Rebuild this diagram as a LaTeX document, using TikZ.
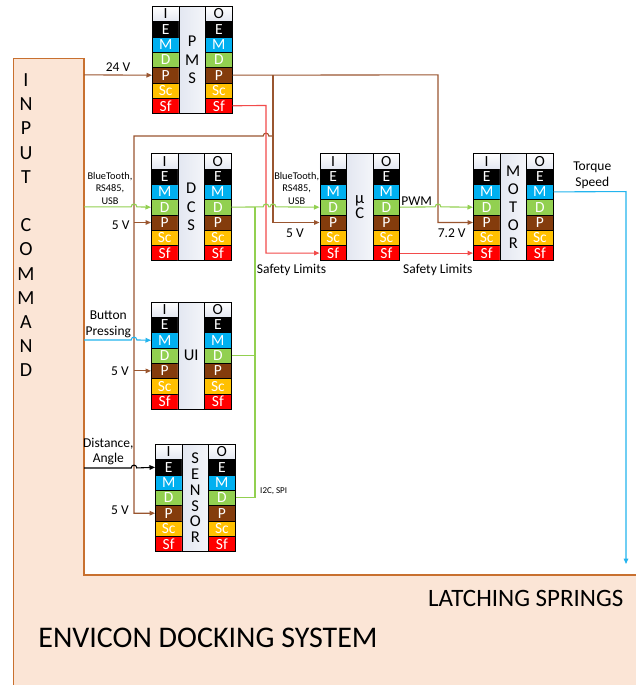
\documentclass[tikz,border=0pt]{standalone}
\usepackage{fontspec}
\setmainfont{Carlito}
\usetikzlibrary{arrows.meta,calc}
\definecolor{cE}{HTML}{000000}
\definecolor{cM}{HTML}{00B0F0}
\definecolor{cD}{HTML}{92D050}
\definecolor{cP}{HTML}{843C0C}
\definecolor{cSc}{HTML}{FFC000}
\definecolor{cSf}{HTML}{FF0000}
\definecolor{peach}{HTML}{FBE5D6}
\definecolor{framec}{HTML}{C8702F}
\definecolor{brn}{HTML}{9A5630}
\definecolor{redl}{HTML}{F24B4B}
\definecolor{grnl}{HTML}{92D050}
\definecolor{cyl}{HTML}{23B4EE}
\definecolor{midc}{HTML}{E3E7F1}
\tikzset{
  x=1pt, y=-1pt,
  cell/.style={draw=black, line width=0.7pt, minimum width=26.6pt, minimum height=15.3pt,
    inner sep=0pt, anchor=north west, font=\fontsize{15.5}{15.5}\selectfont, text=white},
  sI/.style={cell, top color=white, bottom color=midc, text=black},
  sE/.style={cell, fill=cE},
  sM/.style={cell, fill=cM},
  sD/.style={cell, fill=cD},
  sP/.style={cell, fill=cP},
  sSc/.style={cell, fill=cSc},
  sSf/.style={cell, fill=cSf},
  midcol/.style={draw=black, line width=0.7pt, minimum width=26.6pt, minimum height=107.1pt,
    inner sep=0pt, anchor=north west, left color=midc, right color=white!60!midc},
  conn/.style={line width=1.1pt},
  bline/.style={conn, draw=brn},
  rline/.style={conn, draw=redl},
  gline/.style={conn, draw=grnl},
  cline/.style={conn, draw=cyl},
  kline/.style={conn, draw=black},
  arr/.style={-{Triangle[length=5.5pt,width=4.6pt]}},
  lbl/.style={anchor=base, inner sep=0pt, font=\fontsize{13.5}{13.5}\selectfont},
  sml/.style={anchor=base, inner sep=0pt, font=\fontsize{10.3}{10.3}\selectfont},
  cmdl/.style={anchor=base, inner sep=0pt, font=\fontsize{20}{20}\selectfont},
}
\newcommand\hopR[2]{-- ({#1-2.8},{#2}) .. controls ({#1-2.8},{#2-3.8}) and ({#1+2.8},{#2-3.8}) .. ({#1+2.8},{#2})}
\newcommand\hopL[2]{-- ({#1+2.8},{#2}) .. controls ({#1+2.8},{#2-3.8}) and ({#1-2.8},{#2-3.8}) .. ({#1-2.8},{#2})}
\newcommand\ioblk[5]{%
  \foreach \k/\t [count=\i from 0] in {I/I,E/E,M/M,D/D,P/P,Sc/Sc,Sf/Sf}{
    \node[s\k] (#1-l\k) at ({#2},{#3+15.3*\i}) {\t};
  }
  \foreach \k/\t [count=\i from 0] in {I/O,E/E,M/M,D/D,P/P,Sc/Sc,Sf/Sf}{
    \node[s\k] (#1-r\k) at ({#2+53.2},{#3+15.3*\i}) {\t};
  }
  \node[midcol] (#1-m) at ({#2+26.6},{#3}) {};
  \node[align=center, inner sep=0pt, font=\fontsize{16.5}{#5}\selectfont] (#1-t) at (#1-m.center) {#4};
}
\begin{document}
\begin{tikzpicture}
\useasboundingbox (0,0) rectangle (636,685);
% background
\fill[white] (0,0) rectangle (636,685);
\fill[peach] (13.3,58.3) rectangle (636,685);
\fill[white] (84,58.3) rectangle (636,575);
\draw[framec, line width=1.2pt] (636,575) -- (84,575) -- (84,58.3) -- (13.3,58.3) -- (13.3,685);
% input command text
\foreach \l [count=\k from 0] in {I,N,P,U,T}{\node[cmdl] (cin\k) at (26,{86.4+24.2*\k}) {\l};}
\foreach \l [count=\k from 6] in {C,O,M,M,A,N,D}{\node[cmdl] (cco\k) at (26,{86.4+24.2*\k}) {\l};}
\node[anchor=base, inner sep=0pt, font=\fontsize{25}{25}\selectfont] (latch) at (525.8,606) {LATCHING SPRINGS};
\node[anchor=base, inner sep=0pt, font=\fontsize{30}{30}\selectfont] (envicon) at (208,647.5) {ENVICON DOCKING SYSTEM};
% blocks
\ioblk{pms}{152}{6}{P\\M\\S}{18.7}
\ioblk{dcs}{151}{153.3}{D\\C\\S}{18.5}
\ioblk{uc}{319.5}{153.3}{µ\\C}{15.5}
\ioblk{mot}{473}{153.3}{M\\O\\T\\O\\R}{18}
\ioblk{ui}{151}{301.7}{UI}{15}
\ioblk{sen}{155}{444}{S\\E\\N\\S\\O\\R}{15.8}
% coordinates
\coordinate (b1) at (273,136);
\coordinate (bb) at (134,136);
\coordinate (b2) at (438,74.85);
\coordinate (r1) at (266,105.45);
\coordinate (gb) at (255,206.85);
\coordinate (cb) at (626,191.55);
\coordinate (cend) at (626,564);
\coordinate (in24) at (84,74.85);
\coordinate (inD) at (84,206.85);
\coordinate (inM) at (84,339.95);
\coordinate (inE) at (84,467.95);
% connectors
\draw[bline,arr] (in24) -- (pms-lP.west);
\draw[bline,arr] (pms-rP.east) -- (b2) -- (b2 |- mot-lP.west) -- (mot-lP.west);
\draw[bline,arr] (pms-rP.east -| b1) -- (b1 |- uc-lP.west) -- (uc-lP.west);
\draw[bline,arr] (b1) \hopL{266}{136} -- (bb) -- (bb |- sen-lP.west) -- (sen-lP.west);
\draw[bline,arr] (bb |- dcs-lP.west) -- (dcs-lP.west);
\draw[bline,arr] (bb |- ui-lP.west) -- (ui-lP.west);
\draw[rline,arr] (pms-rSf.east) -- (r1) -- (r1 |- uc-lSf.west) -- (uc-lSf.west);
\draw[rline,arr] (uc-rSf.east) -- (mot-lSf.west);
\draw[gline,arr] (dcs-rD.east) \hopR{266}{206.85} \hopR{273}{206.85} -- (uc-lD.west);
\draw[gline,arr] (uc-rD.east) \hopR{438}{206.85} -- (mot-lD.west);
\draw[gline] (ui-rD.east) -- (gb |- ui-rD.east);
\draw[gline] (sen-rD.east) -- (gb |- sen-rD.east) -- (gb);
\draw[gline,arr] (inD) \hopR{134}{206.85} -- (dcs-lD.west);
\draw[cline,arr] (inM) \hopR{134}{339.95} -- (ui-lM.west);
\draw[kline,arr] (inE) \hopR{134}{467.95} -- (sen-lE.west);
\draw[cline,arr] (mot-rM.east) -- (cb) -- (cend);
% labels
\node[lbl] (l24) at (118,71.3) {24 V};
\node[sml] (bt1a) at (110,179.3) {BlueTooth,};
\node[sml] (bt1b) at (110,191.6) {RS485,};
\node[sml] (bt1c) at (110,204) {USB};
\node[sml] (bt2a) at (296.7,179.3) {BlueTooth,};
\node[sml] (bt2b) at (296.7,191.6) {RS485,};
\node[sml] (bt2c) at (296.7,204) {USB};
\node[lbl] (v5a) at (120.7,229.3) {5 V};
\node[lbl] (v5b) at (295,237.6) {5 V};
\node[lbl] (sl1) at (291.5,273.3) {Safety Limits};
\node[lbl] (pwm) at (416.7,205.3) {PWM};
\node[lbl] (v72) at (451.7,237.6) {7.2 V};
\node[lbl] (sl2) at (437.8,273.3) {Safety Limits};
\node[lbl] (tq) at (592.3,170.3) {Torque};
\node[lbl] (sp) at (592.3,186) {Speed};
\node[lbl] (btn) at (108.3,319.3) {Button};
\node[lbl] (prs) at (108.3,335.3) {Pressing};
\node[lbl] (v5c) at (120,375) {5 V};
\node[lbl] (dst) at (108.3,447) {Distance,};
\node[lbl] (ang) at (108.3,462.6) {Angle};
\node[lbl] (v5d) at (120,514.3) {5 V};
\node[anchor=base, inner sep=0pt, font=\fontsize{9}{9}\selectfont] (i2c) at (273.7,493) {I2C, SPI};
\end{tikzpicture}
\end{document}
